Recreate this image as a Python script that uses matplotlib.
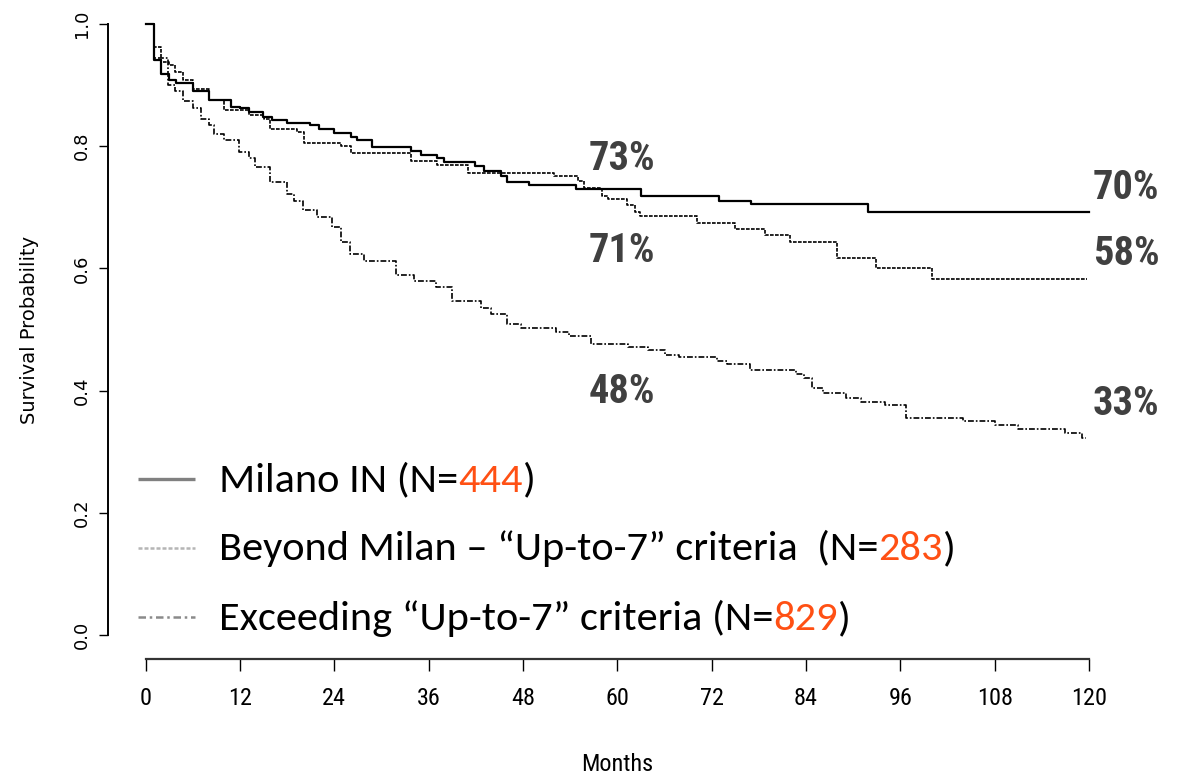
import matplotlib
matplotlib.use("Agg")
import matplotlib.pyplot as plt
from matplotlib import font_manager as fm


def pick_font(*names):
    for name in names:
        try:
            fm.findfont(fm.FontProperties(family=name), fallback_to_default=False)
            return name
        except ValueError:
            pass
    return "DejaVu Sans"


NARROW = pick_font("Roboto Condensed", "Liberation Sans Narrow", "Archivo Narrow",
                   "Liberation Sans")
LEGEND_FONT = pick_font("Carlito", "Lato", "Open Sans")

###############################################################################
# Kaplan-Meier steps (months, survival)

milano_t = [0, 1.0, 1.9, 3.0, 3.8, 6.0, 8.0, 10.9, 12.0, 13.1, 14.9, 16.1, 18.0,
            20.9, 22.0, 23.9, 26.1, 26.9, 28.8, 33.7, 35.0, 37.0, 38.0, 41.9,
            43.0, 45.2, 45.9, 48.8, 54.8, 63.0, 72.9, 77.0, 91.9, 120.0]
milano_s = [1.0, 0.941, 0.919, 0.908, 0.903, 0.891, 0.876, 0.865, 0.862, 0.856,
            0.848, 0.843, 0.838, 0.834, 0.829, 0.821, 0.815, 0.810, 0.799, 0.792,
            0.785, 0.781, 0.774, 0.768, 0.759, 0.752, 0.742, 0.736, 0.730, 0.718,
            0.711, 0.706, 0.693, 0.693]

beyond_t = [0, 1.0, 1.9, 3.0, 3.7, 4.8, 6.0, 8.0, 9.9, 13.1, 15.0, 15.8, 19.2,
            20.1, 24.8, 26.1, 33.7, 37.1, 41.0, 52.0, 55.0, 55.8, 58.0, 58.8,
            61.2, 62.2, 62.9, 70.1, 75.0, 78.8, 82.0, 88.0, 92.9, 100.0, 119.7]
beyond_s = [1.0, 0.963, 0.938, 0.933, 0.921, 0.908, 0.893, 0.876, 0.859, 0.851,
            0.845, 0.829, 0.823, 0.805, 0.800, 0.789, 0.776, 0.770, 0.757, 0.752,
            0.743, 0.732, 0.719, 0.714, 0.703, 0.692, 0.686, 0.675, 0.665, 0.655,
            0.643, 0.617, 0.600, 0.582, 0.582]

exceed_t = [0, 1.0, 2.8, 3.7, 4.8, 6.0, 7.0, 8.0, 8.7, 9.9, 11.9, 13.1, 13.9,
            15.8, 18.0, 18.9, 20.0, 21.8, 23.7, 24.8, 26.0, 27.8, 31.9, 34.1,
            36.9, 39.0, 42.7, 43.9, 45.9, 47.8, 52.2, 53.9, 56.7, 61.4, 63.9,
            66.1, 67.8, 72.7, 74.0, 76.9, 82.7, 83.7, 84.8, 86.1, 89.1, 91.0,
            94.0, 96.7, 104.0, 108.0, 111.0, 117.0, 119.1, 119.6]
exceed_s = [1.0, 0.945, 0.900, 0.890, 0.874, 0.862, 0.845, 0.834, 0.820, 0.811,
            0.790, 0.781, 0.766, 0.741, 0.722, 0.711, 0.696, 0.684, 0.667, 0.643,
            0.624, 0.612, 0.589, 0.580, 0.569, 0.547, 0.536, 0.525, 0.509, 0.502,
            0.496, 0.489, 0.477, 0.472, 0.466, 0.459, 0.455, 0.448, 0.443, 0.433,
            0.428, 0.421, 0.404, 0.396, 0.388, 0.381, 0.377, 0.355, 0.350, 0.344,
            0.337, 0.331, 0.323, 0.323]

# survival quoted at 5 and 10 years
pct_mid = ["73%", "71%", "48%"]
pct_mid_y = [0.761, 0.611, 0.380]
pct_end = ["70%", "58%", "33%"]
pct_end_y = [0.713, 0.606, 0.360]

legend_rows = [
    [("Milano IN (N=", "k"), ("444", "o"), (")", "k")],
    [("Beyond Milan \u2013 \u201cUp-to-7\u201d criteria  (N=", "k"), ("283", "o"), (")", "k")],
    [("Exceeding \u201cUp-to-7\u201d criteria (N=", "k"), ("829", "o"), (")", "k")],
]

x_ticks = [0, 12, 24, 36, 48, 60, 72, 84, 96, 108, 120]
y_ticks = [0.0, 0.2, 0.4, 0.6, 0.8, 1.0]

###############################################################################

ORANGE = "#FF5014"
DARK = "#404040"

fig = plt.figure(figsize=(11.88, 7.78), dpi=100)
ax = fig.add_axes([0.0909, 0.1524, 0.8575, 0.8481])
ax.set_xlim(-4.8, 124.8)
ax.set_ylim(-0.04, 1.04)

ax.step(milano_t, milano_s, where="post", color="black", lw=1.6)
ax.step(beyond_t, beyond_s, where="post", color="black", lw=1.2,
        linestyle=(0, (2.2, 0.8)))
ax.step(exceed_t, exceed_s, where="post", color="black", lw=1.2,
        linestyle=(0, (3.5, 1.2, 1.0, 1.2)))

for lab, y in zip(pct_mid, pct_mid_y):
    ax.text(56.4, y, lab, fontsize=29, fontweight="bold", color=DARK,
            family=NARROW, va="baseline", ha="left")
for lab, y in zip(pct_end, pct_end_y):
    ax.text(120.5, y, lab, fontsize=29, fontweight="bold", color=DARK,
            family=NARROW, va="baseline", ha="left", clip_on=False)

# R-style detached axes
for side in ["top", "right"]:
    ax.spines[side].set_visible(False)
ax.spines["left"].set_bounds(0, 1)
ax.spines["bottom"].set_bounds(0, 120)
ax.spines["left"].set_linewidth(1.4)
ax.spines["bottom"].set_linewidth(1.6)
ax.spines["bottom"].set_color("#333333")

ax.set_xticks(x_ticks)
ax.set_xticklabels([str(v) for v in x_ticks], family=NARROW, fontsize=17.5)
ax.set_yticks(y_ticks)
ax.set_yticklabels(["%.1f" % v for v in y_ticks], family="DejaVu Sans",
                   fontsize=13, rotation=90, va="center")
ax.tick_params(axis="x", length=8.5, width=1.0, pad=11)
ax.tick_params(axis="y", length=6.5, width=1.0, pad=6)

ax.set_xlabel("Months", family=NARROW, fontsize=17.5, labelpad=31)
ax.set_ylabel("Survival Probability", family="DejaVu Sans", fontsize=14,
              labelpad=24)

# legend drawn by hand: line sample plus multi-coloured label
sample_styles = [
    dict(color="#808080", lw=2.4, linestyle="-"),
    dict(color="#b5b5b5", lw=1.8, linestyle=(0, (1.6, 0.8))),
    dict(color="#8a8a8a", lw=1.8, linestyle=(0, (3.0, 1.5, 1.0, 1.5))),
]
sample_y = [0.2553, 0.1424, 0.029]
text_y = [0.2345, 0.1227, 0.0082]

fig.canvas.draw()
renderer = fig.canvas.get_renderer()
for style, sy, ty, row in zip(sample_styles, sample_y, text_y, legend_rows):
    ax.plot([-1.0, 6.3], [sy, sy], solid_capstyle="butt", **style)
    x_disp, y_disp = ax.transData.transform((9.3, ty))
    for piece, col in row:
        t = ax.text(x_disp, y_disp, piece, transform=None, fontsize=30.5,
                    family=LEGEND_FONT, color=ORANGE if col == "o" else "black",
                    va="baseline", ha="left")
        x_disp = t.get_window_extent(renderer).x1

fig.savefig("out.png", dpi=100)
